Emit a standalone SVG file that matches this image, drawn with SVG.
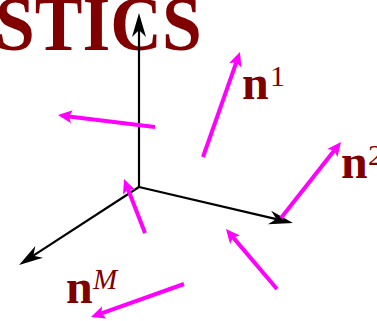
<svg xmlns="http://www.w3.org/2000/svg" width="377" height="321" viewBox="0 0 377 321">
<style>
.title{font-family:"Liberation Serif","Times New Roman",serif;font-weight:bold;font-size:73px;fill:#800000}
.lbl{font-family:"Liberation Serif","Times New Roman",serif;font-weight:bold;font-size:48px;fill:#800000}
.sup{font-family:"Liberation Serif","Times New Roman",serif;font-weight:normal;font-size:30px;fill:#800000}
.supi{font-family:"Liberation Serif","Times New Roman",serif;font-style:italic;font-size:29px;fill:#800000}
.axis{stroke:#000;stroke-width:2.2;fill:none;marker-end:url(#ab)}
.vec{stroke:#ff00ff;stroke-width:4;fill:none;marker-end:url(#am)}
</style>
<defs>
<marker id="ab" markerUnits="userSpaceOnUse" orient="auto" refX="0" refY="0" markerWidth="40" markerHeight="40" overflow="visible">
<path d="M17,0 L-7,-7 L0,0 L-7,7 Z" fill="#000"/>
</marker>
<marker id="am" markerUnits="userSpaceOnUse" orient="auto" refX="0" refY="0" markerWidth="40" markerHeight="40" overflow="visible">
<path d="M11,0 L-3,-6.5 L0,0 L-3,6.5 Z" fill="#ff00ff"/>
</marker>
</defs>
<g id="title"><text class="title" transform="translate(-5,50) scale(0.98,1.07)">STICS</text></g>
<g id="connectors">
<line class="axis" x1="139" y1="187" x2="139" y2="30"/>
<line class="axis" x1="139" y1="187" x2="276.4" y2="219.1"/>
<line class="axis" x1="139" y1="187" x2="33.3" y2="255.7"/>
<line class="vec" x1="203" y1="157" x2="236.3" y2="62.4"/>
<line class="vec" x1="155" y1="127" x2="68.9" y2="116.4"/>
<line class="vec" x1="281" y1="218" x2="334.2" y2="150.6"/>
<line class="vec" x1="145" y1="233" x2="128" y2="189.3"/>
<line class="vec" x1="277" y1="289" x2="233.1" y2="237.4"/>
<line class="vec" x1="184" y1="284" x2="101.4" y2="313.3"/>
</g>
<g id="n1"><text class="lbl" x="242" y="99">n</text><text class="sup" x="270" y="86">1</text></g>
<g id="n2"><text class="lbl" x="341" y="178">n</text><text class="sup" x="368" y="165">2</text></g>
<g id="nM"><text class="lbl" x="66" y="303">n</text><text class="supi" x="93" y="289">M</text></g>
</svg>
